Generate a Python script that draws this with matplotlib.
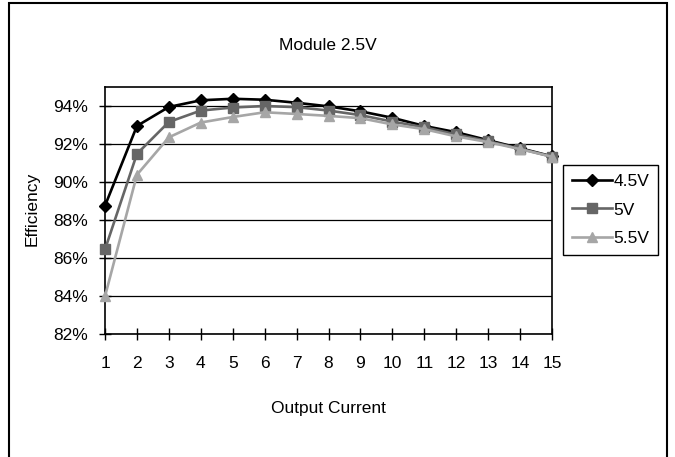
import matplotlib
matplotlib.use("Agg")
import matplotlib.pyplot as plt
from matplotlib.patches import Rectangle

plt.rcParams['font.family'] = ['Liberation Sans', 'DejaVu Sans']

current = list(range(1, 16))
eff_45 = [88.75, 92.95, 93.95, 94.30, 94.38, 94.33, 94.17, 93.98, 93.72, 93.38, 92.95, 92.62, 92.20, 91.78, 91.35]
eff_50 = [86.45, 91.48, 93.16, 93.76, 93.92, 94.00, 93.94, 93.76, 93.52, 93.18, 92.88, 92.50, 92.15, 91.75, 91.33]
eff_55 = [83.98, 90.38, 92.35, 93.13, 93.42, 93.67, 93.58, 93.48, 93.36, 93.03, 92.78, 92.40, 92.10, 91.73, 91.33]
series_labels = ['4.5V', '5V', '5.5V']
y_ticks = [82, 84, 86, 88, 90, 92, 94]

FS = 12.5
W, H = 675, 457
fig = plt.figure(figsize=(W / 100, H / 100), dpi=100)
ax = fig.add_axes([105 / W, 1 - 334 / H, (552 - 105) / W, (334 - 87) / H])

styles = [
    dict(color='#000000', marker='D', markersize=6),
    dict(color='#666666', marker='s', markersize=7),
    dict(color='#a6a6a6', marker='^', markersize=7.5),
]
for vals, lab, st in zip([eff_45, eff_50, eff_55], series_labels, styles):
    ax.plot(current, vals, label=lab, linewidth=1.9, color=st['color'],
            marker=st['marker'], markersize=st['markersize'],
            markerfacecolor=st['color'], markeredgecolor=st['color'],
            clip_on=False, zorder=3)

ax.set_xlim(1, 15)
ax.set_ylim(82, 95)
ax.set_xticks(current)
ax.set_yticks(y_ticks)
ax.set_yticklabels([f'{v}%' for v in y_ticks])
ax.yaxis.grid(True, color='#000000', linewidth=0.9)
ax.set_axisbelow(True)
for s in ['left', 'bottom', 'top', 'right']:
    ax.spines[s].set_linewidth(1.2)
    ax.spines[s].set_color('#000000')
ax.tick_params(axis='both', direction='inout', length=8, width=1, labelsize=FS, colors='#000000')
ax.tick_params(axis='x', pad=12)
ax.tick_params(axis='y', pad=8)

fig.text(328 / W, 1 - 46 / H, 'Module 2.5V', ha='center', va='center', fontsize=FS)
fig.text(328 / W, 1 - 409 / H, 'Output Current', ha='center', va='center', fontsize=FS)
fig.text(32 / W, 1 - 209 / H, 'Efficiency', ha='center', va='center', rotation=90, fontsize=FS)

leg = ax.legend(loc='upper left', bbox_to_anchor=(563 / W, 1 - 165 / H),
                bbox_transform=fig.transFigure, borderaxespad=0,
                fontsize=FS, handlelength=2.3, labelspacing=0.78,
                fancybox=False, framealpha=1, edgecolor='#000000',
                handletextpad=0.1, borderpad=0.5)
leg.get_frame().set_linewidth(1.0)

fig.patches.append(Rectangle((9 / W, -0.2), (667 - 9) / W, 1.2 - 3 / H,
                             transform=fig.transFigure, fill=False,
                             edgecolor='#000000', linewidth=1.5))

fig.savefig('out.png', dpi=100, facecolor='white')
